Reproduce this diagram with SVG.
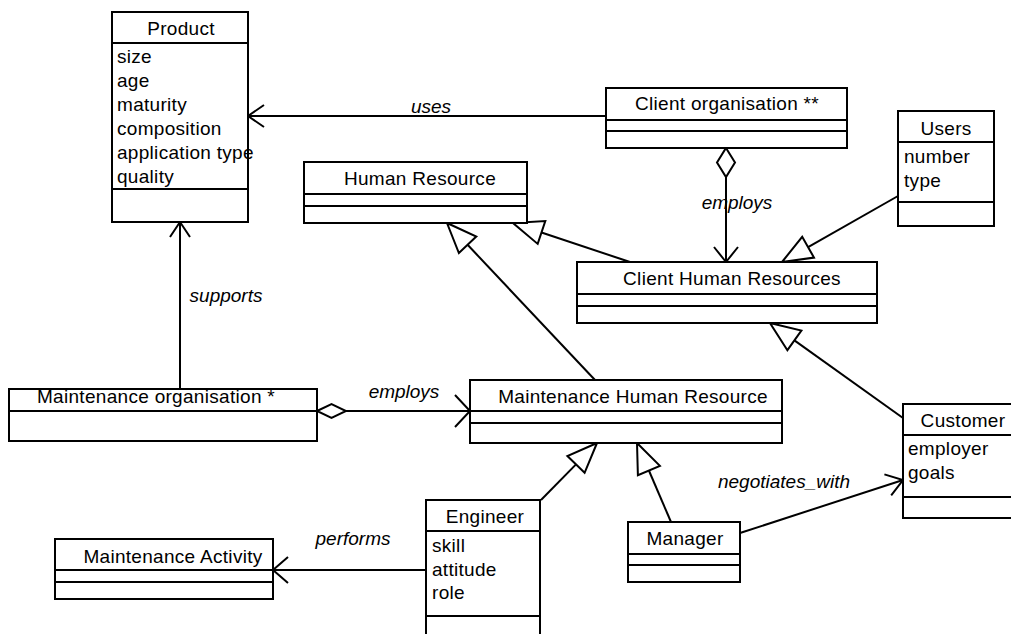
<svg xmlns="http://www.w3.org/2000/svg" width="1011" height="634" viewBox="0 0 1011 634">
<style>
.box{fill:#fff;stroke:#000;stroke-width:2}
.div{stroke:#000;stroke-width:2;fill:none}
.t{font-family:"Liberation Sans",Arial,Helvetica,sans-serif;font-size:19px;fill:#000;letter-spacing:0.3px}
.c{text-anchor:middle}
.lbl{font-family:"Liberation Sans",Arial,Helvetica,sans-serif;font-size:19px;font-style:italic;fill:#000;text-anchor:middle}
.ln{stroke:#000;stroke-width:2;fill:none}
.tri{stroke:#000;stroke-width:2;fill:#fff;stroke-linejoin:miter}
.dia{stroke:#000;stroke-width:2;fill:#fff}
</style>
<rect width="1011" height="634" fill="#fff"/>
<g id="connectors">
  <!-- uses -->
  <line class="ln" x1="606" y1="116" x2="248" y2="116"/>
  <polyline class="ln" points="264,105 248,116 264,127"/>
  <!-- supports -->
  <line class="ln" x1="180" y1="389" x2="180" y2="222"/>
  <polyline class="ln" points="170,237 180,222 190,237"/>
  <!-- client org employs client HR -->
  <line class="ln" x1="726" y1="177" x2="726" y2="262"/>
  <polygon class="dia" points="726,148 735,162.5 726,177 717,162.5"/>
  <polyline class="ln" points="714,247 726,262 738,247"/>
  <!-- maintenance org employs MHR -->
  <line class="ln" x1="346" y1="411" x2="470" y2="411"/>
  <polygon class="dia" points="317,411 331.5,404 346,411 331.5,418"/>
  <polyline class="ln" points="455,395 470,411 455,427"/>
  <!-- Users -> Client HR -->
  <line class="ln" x1="898" y1="196" x2="808.1" y2="247.2"/>
  <polygon class="tri" points="782,262 814,257.6 802.2,236.8"/>
  <!-- MHR -> HR -->
  <line class="ln" x1="595" y1="380" x2="467.6" y2="244.8"/>
  <polygon class="tri" points="447,223 476.3,236.6 458.9,253"/>
  <!-- Client HR -> HR -->
  <line class="ln" x1="630" y1="262" x2="541.5" y2="232.5"/>
  <polygon class="tri" points="513,223 545.3,221.1 537.7,243.9"/>
  <!-- Customer -> Client HR -->
  <line class="ln" x1="903" y1="418" x2="794.4" y2="340.4"/>
  <polygon class="tri" points="770,323 801.4,330.6 787.4,350.2"/>
  <!-- Engineer -> MHR -->
  <line class="ln" x1="541" y1="500" x2="576" y2="464.4"/>
  <polygon class="tri" points="597,443 584.6,472.8 567.4,456"/>
  <!-- Manager -> MHR -->
  <line class="ln" x1="671" y1="522" x2="648.9" y2="470.5"/>
  <polygon class="tri" points="637,443 659.9,465.8 637.9,475.2"/>
  <!-- performs -->
  <line class="ln" x1="426" y1="570" x2="273" y2="570"/>
  <polyline class="ln" points="288,557 273,570 288,583"/>
  <!-- negotiates_with -->
  <line class="ln" x1="740" y1="533" x2="903" y2="480"/>
  <polyline class="ln" points="884.4,474.4 903,480 891.2,495.4"/>
  <!-- labels -->
  <text class="lbl" x="431" y="113">uses</text>
  <text class="lbl" x="737" y="209">employs</text>
  <text class="lbl" x="404" y="398">employs</text>
  <text class="lbl" x="226" y="302">supports</text>
  <text class="lbl" x="353" y="545">performs</text>
  <text class="lbl" x="784" y="488">negotiates_with</text>
</g>
<g id="product">
  <rect class="box" x="112" y="12" width="136" height="210"/>
  <line class="div" x1="112" y1="43" x2="248" y2="43"/>
  <line class="div" x1="112" y1="189" x2="248" y2="189"/>
  <text class="t c" x="181" y="35">Product</text>
  <text class="t" x="117" y="63">size</text>
  <text class="t" x="117" y="87">age</text>
  <text class="t" x="117" y="111">maturity</text>
  <text class="t" x="117" y="135">composition</text>
  <text class="t" x="117" y="159">application type</text>
  <text class="t" x="117" y="183">quality</text>
</g>
<g id="client-organisation">
  <rect class="box" x="606" y="88" width="241" height="60"/>
  <line class="div" x1="606" y1="120" x2="847" y2="120"/>
  <line class="div" x1="606" y1="131" x2="847" y2="131"/>
  <text class="t c" x="727" y="110">Client organisation **</text>
</g>
<g id="users">
  <rect class="box" x="898" y="111" width="96" height="115"/>
  <line class="div" x1="898" y1="142" x2="994" y2="142"/>
  <line class="div" x1="898" y1="202" x2="994" y2="202"/>
  <text class="t c" x="946" y="135">Users</text>
  <text class="t" x="904" y="163">number</text>
  <text class="t" x="904" y="187">type</text>
</g>
<g id="human-resource">
  <rect class="box" x="304" y="162" width="223" height="61"/>
  <line class="div" x1="304" y1="194" x2="527" y2="194"/>
  <line class="div" x1="304" y1="206" x2="527" y2="206"/>
  <text class="t c" x="420" y="185">Human Resource</text>
</g>
<g id="client-human-resources">
  <rect class="box" x="577" y="262" width="300" height="61"/>
  <line class="div" x1="577" y1="294" x2="877" y2="294"/>
  <line class="div" x1="577" y1="306" x2="877" y2="306"/>
  <text class="t c" x="732" y="285">Client Human Resources</text>
</g>
<g id="maintenance-organisation">
  <rect class="box" x="9" y="389" width="308" height="52"/>
  <line class="div" x1="9" y1="411" x2="317" y2="411"/>
  <text class="t c" x="156" y="403">Maintenance organisation *</text>
</g>
<g id="maintenance-human-resource">
  <rect class="box" x="470" y="380" width="312" height="63"/>
  <line class="div" x1="470" y1="411" x2="782" y2="411"/>
  <line class="div" x1="470" y1="423" x2="782" y2="423"/>
  <text class="t c" x="633" y="403">Maintenance Human Resource</text>
</g>
<g id="customer">
  <rect class="box" x="903" y="404" width="112" height="114"/>
  <line class="div" x1="903" y1="435" x2="1015" y2="435"/>
  <line class="div" x1="903" y1="497" x2="1015" y2="497"/>
  <text class="t c" x="963" y="427">Customer</text>
  <text class="t" x="908" y="455">employer</text>
  <text class="t" x="908" y="479">goals</text>
</g>
<g id="engineer">
  <rect class="box" x="426" y="500" width="114" height="145"/>
  <line class="div" x1="426" y1="531" x2="540" y2="531"/>
  <line class="div" x1="426" y1="616" x2="540" y2="616"/>
  <text class="t c" x="485" y="523">Engineer</text>
  <text class="t" x="432" y="552">skill</text>
  <text class="t" x="432" y="576">attitude</text>
  <text class="t" x="432" y="599">role</text>
</g>
<g id="manager">
  <rect class="box" x="628" y="522" width="112" height="60"/>
  <line class="div" x1="628" y1="554" x2="740" y2="554"/>
  <line class="div" x1="628" y1="565" x2="740" y2="565"/>
  <text class="t c" x="685" y="545">Manager</text>
</g>
<g id="maintenance-activity">
  <rect class="box" x="55" y="539" width="218" height="60"/>
  <line class="div" x1="55" y1="570" x2="273" y2="570"/>
  <line class="div" x1="55" y1="582" x2="273" y2="582"/>
  <text class="t c" x="173" y="563">Maintenance Activity</text>
</g>
</svg>
